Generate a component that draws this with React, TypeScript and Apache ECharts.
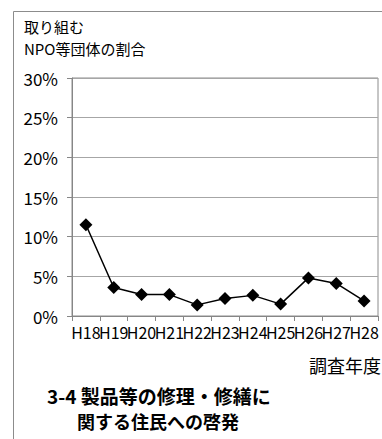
import React, { useEffect, useRef } from "react";
import * as echarts from "echarts";

const categories = ["H18", "H19", "H20", "H21", "H22", "H23", "H24", "H25", "H26", "H27", "H28"];
const values = [11.5, 3.6, 2.7, 2.7, 1.4, 2.2, 2.6, 1.5, 4.8, 4.1, 1.9];
const yTitleLines = ["取り組む", "NPO等団体の割合"];
const xTitle = "調査年度";
const chartTitleLines = ["3-4 製品等の修理・修繕に", "関する住民への啓発"];

const FONT = "'Liberation Sans Narrow', 'Noto Sans CJK JP', sans-serif";
const CJK = "'Noto Sans CJK JP', sans-serif";

export default function App() {
  const ref = useRef<HTMLDivElement>(null);
  useEffect(() => {
    if (!ref.current) return;
    const chart = echarts.init(ref.current, null, { renderer: "svg" });
    chart.setOption({
      animation: false,
      backgroundColor: "#ffffff",
      grid: {
        left: 72,
        top: 78,
        right: 4,
        bottom: 123,
        show: true,
        borderColor: "#8c8c8c",
        borderWidth: 1,
      },
      xAxis: {
        type: "category",
        data: categories,
        boundaryGap: true,
        axisLine: { lineStyle: { color: "#868686", width: 1 } },
        axisTick: { show: true, interval: 0, length: 5, lineStyle: { color: "#868686" } },
        axisLabel: {
          interval: 0,
          color: "#000",
          fontSize: 16,
          fontFamily: FONT,
          margin: 8,
        },
      },
      yAxis: {
        type: "value",
        min: 0,
        max: 30,
        interval: 5,
        axisLine: { show: true, lineStyle: { color: "#868686" } },
        axisTick: { show: true, length: 5, inside: false, lineStyle: { color: "#868686" } },
        axisLabel: {
          formatter: "{value}%",
          color: "#000",
          fontSize: 17,
          fontFamily: FONT,
          margin: 14,
        },
        splitLine: { show: true, lineStyle: { color: "#a6a6a6", width: 1 } },
      },
      series: [
        {
          type: "line",
          data: values,
          symbol: "diamond",
          symbolSize: 13,
          itemStyle: { color: "#000" },
          lineStyle: { color: "#000", width: 1.5 },
        },
      ],
      graphic: [
        {
          type: "rect",
          shape: { x: 13.5, y: 11.5, width: 372, height: 440 },
          style: { fill: "none", stroke: "#8c8c8c", lineWidth: 1 },
          silent: true,
        },
        {
          type: "text",
          x: 24,
          y: 26,
          style: { text: yTitleLines[0], font: `15px ${CJK}`, fill: "#000", verticalAlign: "middle" },
        },
        {
          type: "text",
          x: 24,
          y: 48,
          style: { text: yTitleLines[1], font: `15px ${CJK}`, fill: "#000", verticalAlign: "middle" },
        },
        {
          type: "text",
          x: 381,
          y: 365,
          style: { text: xTitle, font: `18px ${CJK}`, fill: "#000", align: "right", verticalAlign: "middle" },
        },
        {
          type: "text",
          x: 47,
          y: 395,
          style: { text: chartTitleLines[0], font: `bold 19px ${CJK}`, fill: "#000", verticalAlign: "middle" },
        },
        {
          type: "text",
          x: 77,
          y: 421,
          style: { text: chartTitleLines[1], font: `bold 18px ${CJK}`, fill: "#000", verticalAlign: "middle" },
        },
      ],
    });
    return () => chart.dispose();
  }, []);
  return (
    <div
      ref={ref}
      style={{ position: "fixed", left: 0, top: 0, width: 382, height: 439, background: "#fff" }}
    />
  );
}
